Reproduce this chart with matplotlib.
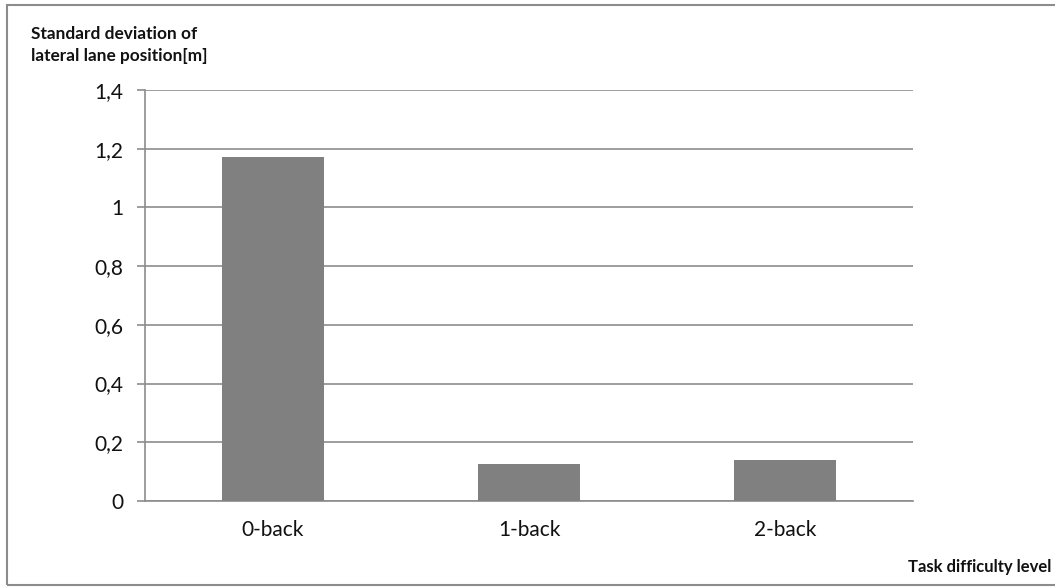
import matplotlib
matplotlib.use("Agg")
import matplotlib.pyplot as plt
from matplotlib.patches import Rectangle
from matplotlib.ticker import FuncFormatter

categories = ["0-back", "1-back", "2-back"]
values = [1.172, 0.126, 0.14]
yticks = [0, 0.2, 0.4, 0.6, 0.8, 1.0, 1.2, 1.4]

plt.rcParams['font.family'] = ['Lato', 'DejaVu Sans']

W, H = 1055, 587
fig = plt.figure(figsize=(W/100, H/100), dpi=100)
ax = fig.add_axes([145/W, 1-501/H, (913-145)/W, (501-90)/H])

x = range(len(categories))
ax.bar(x, values, width=0.4, color="#808080", zorder=3)
ax.set_xlim(-0.5, 2.5)
ax.set_ylim(0, 1.4)
ax.set_yticks(yticks)

def fmt(v, pos):
    s = ("%.1f" % v).rstrip("0").rstrip(".")
    return s.replace(".", ",")
ax.yaxis.set_major_formatter(FuncFormatter(fmt))
ax.set_xticks(list(x))
ax.set_xticklabels(categories)

grid_c = "#8c8c8c"
ax.grid(axis="y", color=grid_c, linewidth=1.2, zorder=0)
for s in ["top", "right"]:
    ax.spines[s].set_visible(False)
ax.spines["left"].set_color(grid_c)
ax.spines["bottom"].set_color(grid_c)
ax.spines["left"].set_linewidth(1.2)
ax.spines["bottom"].set_linewidth(1.2)
ax.tick_params(axis="y", length=5.5, color=grid_c, width=1.2, labelsize=15, pad=10, labelcolor="#111111")
ax.tick_params(axis="x", length=0, labelsize=15, pad=14, labelcolor="#111111")

fig.text(31/W, 1-45/H, "Standard deviation of\nlateral lane position[m]", ha="left", va="center",
         fontsize=12.4, fontweight="bold", linespacing=1.4, color="#111111")
fig.text(1051/W, 1-567/H, "Task difficulty level", ha="right", va="center",
         fontsize=12, fontweight="bold", color="#111111")

fig.patches.append(Rectangle((7/W, 1-585/H), (1060-7)/W, (585-5)/H, transform=fig.transFigure,
                             fill=False, edgecolor="#8c8c8c", linewidth=1.5))

fig.savefig("out.png", dpi=100)
